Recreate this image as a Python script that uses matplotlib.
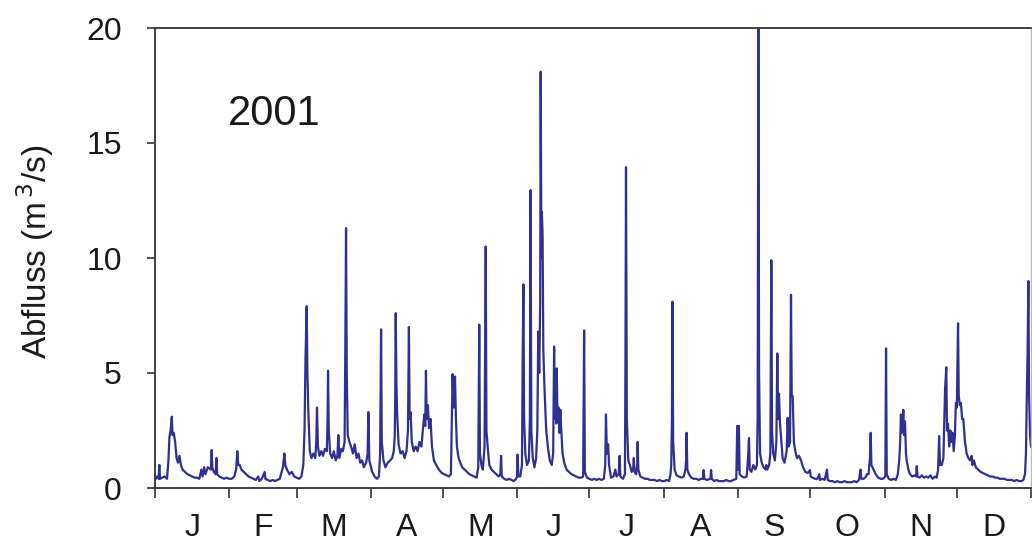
import matplotlib
matplotlib.use("Agg")
import matplotlib.pyplot as plt
import numpy as np

plt.rcParams['font.family'] = ['Liberation Sans', 'DejaVu Sans']

# --- DATEN: (Tag im Jahr, Abfluss m3/s) ---
jan = [(0, 0.35), (0.8, 0.5), (1.5, 0.4), (1.8, 1.0), (2.1, 0.4), (3, 0.45), (4, 0.5), (5, 0.4),
       (5.6, 1.2), (6, 2.2), (6.5, 2.5), (7.0, 3.1), (7.3, 2.3), (7.8, 2.4), (8.4, 2.0), (9, 1.3),
       (9.6, 1.1), (10.2, 1.4), (10.8, 1.0), (11.5, 0.8), (12.5, 0.7), (13.5, 0.6), (14.5, 0.55),
       (15.5, 0.5), (16.5, 0.45), (17.5, 0.45), (18.5, 0.4), (19.3, 0.8), (19.8, 0.5), (20.5, 0.9),
       (21, 0.6), (22, 0.9), (23.3, 0.8), (23.6, 1.65), (23.9, 0.9), (24.5, 0.7), (25.3, 0.6),
       (25.6, 1.3), (25.9, 0.6), (26.8, 0.5), (27.8, 0.45), (28.8, 0.4), (29.8, 0.45), (30.8, 0.4)]
feb = [(32, 0.4), (33, 0.5), (33.8, 0.8), (34.3, 1.6), (34.7, 1.0), (35.3, 1.0), (36, 0.8), (37, 0.7),
       (38, 0.6), (39, 0.5), (40, 0.45), (41, 0.4), (42, 0.35), (43, 0.5), (43.5, 0.3), (44.5, 0.4),
       (45.7, 0.7), (46, 0.4), (47, 0.35), (48, 0.3), (49, 0.35), (50, 0.3), (51, 0.35), (52, 0.4),
       (53.3, 0.9), (53.9, 1.5), (54.3, 1.0), (55, 0.8), (56, 0.6), (57, 0.7), (58, 0.5)]
mar = [(59, 0.45), (60, 0.4), (61, 0.5), (61.8, 1.0), (62.3, 2.5), (62.7, 5.6), (63.2, 7.9), (63.5, 5.0),
       (63.9, 3.3), (64.5, 1.6), (65.2, 1.3), (66, 1.5), (66.8, 1.3), (67.2, 2.0), (67.5, 3.5), (67.9, 1.8),
       (68.5, 1.4), (69.3, 1.6), (70, 1.4), (70.8, 1.7), (71.6, 1.6), (71.9, 3.0), (72.1, 5.1), (72.4, 2.5),
       (73, 1.5), (73.8, 1.3), (74.5, 1.6), (75.3, 1.2), (76, 1.4), (76.4, 2.3), (76.8, 1.3), (77.6, 1.7),
       (78.3, 1.6), (79, 2.0), (79.3, 6.1), (79.6, 11.3), (79.9, 5.0), (80.3, 2.3), (81, 2.0), (81.7, 1.8),
       (82.5, 1.5), (83.2, 1.9), (84, 1.3), (84.8, 1.5), (85.5, 1.1), (86.3, 1.2), (87, 0.9), (88, 1.1),
       (88.6, 1.5), (88.9, 3.3), (89.3, 1.2), (90, 0.9)]
apr = [(90.5, 0.7), (91.5, 0.5), (92.5, 0.4), (93.3, 0.5), (93.8, 1.5), (94.2, 6.9), (94.5, 2.0), (95.2, 1.2),
       (96, 0.9), (97, 1.1), (98, 1.2), (98.8, 1.3), (99.5, 1.6), (99.9, 2.3), (100.1, 4.0), (100.3, 7.6),
       (100.6, 4.5), (100.9, 3.2), (101.5, 1.9), (102.3, 1.5), (103.2, 1.6), (104, 1.3), (104.8, 1.6),
       (105.4, 2.5), (105.8, 7.0), (106.1, 3.0), (106.5, 3.3), (107, 2.0), (107.8, 1.6), (108.6, 1.8),
       (109.4, 1.6), (110.2, 2.0), (111, 1.8), (111.7, 2.6), (112.2, 3.2), (112.6, 2.7), (112.9, 5.1),
       (113.2, 3.0), (113.7, 3.6), (114.2, 2.6), (114.8, 3.0), (115.4, 1.8), (116.2, 1.2), (117.2, 1.0),
       (118.3, 0.8), (119.5, 0.65)]
mai = [(120.5, 0.6), (121.5, 0.55), (122.5, 0.5), (123.3, 0.6), (123.7, 3.0), (124, 4.95), (124.4, 3.5),
       (124.7, 4.0), (125, 4.85), (125.4, 3.0), (125.8, 1.8), (126.5, 1.3), (127.2, 1.1), (128, 0.9),
       (129, 0.8), (130, 0.7), (131, 0.6), (132, 0.55), (133, 0.5), (134, 0.45), (134.7, 0.9), (135.1, 7.1),
       (135.4, 1.5), (136, 1.0), (136.6, 0.8), (137.3, 1.8), (137.8, 10.5), (138.1, 2.5), (138.6, 1.8),
       (139.3, 1.0), (140.2, 0.8), (141.2, 0.7), (142.2, 0.6), (143.2, 0.5), (143.9, 0.6), (144.2, 1.4),
       (144.5, 0.5), (145.5, 0.4), (146.5, 0.35), (147.5, 0.4), (148.5, 0.35), (149.5, 0.3), (150.5, 0.4)]
jun = [(150.8, 0.5), (151.1, 1.45), (151.4, 0.5), (152.2, 0.5), (152.9, 1.0), (153.2, 5.7), (153.5, 8.85),
       (153.8, 3.0), (154.3, 1.5), (155, 1.0), (155.8, 1.2), (156.2, 3.0), (156.5, 12.95), (156.8, 2.5),
       (157.4, 1.3), (158.1, 0.9), (158.8, 1.3), (159.3, 2.5), (159.7, 6.8), (160.1, 5.0), (160.5, 8.0),
       (160.7, 18.1), (161.0, 10.0), (161.2, 12.0), (161.5, 11.0), (161.8, 6.0), (162.3, 4.3), (163, 2.5),
       (163.8, 1.7), (164.5, 1.2), (165.3, 1.0), (165.9, 1.5), (166.3, 6.15), (166.6, 3.0), (166.9, 3.6),
       (167.2, 2.8), (167.4, 5.2), (167.7, 2.9), (168.1, 3.5), (168.5, 2.4), (168.9, 3.4), (169.3, 2.5),
       (169.8, 1.5), (170.5, 1.1), (171.5, 0.8), (172.5, 0.7), (173.5, 0.6), (174.5, 0.55), (175.5, 0.5),
       (176.5, 0.45), (177.5, 0.45), (178.4, 0.5), (178.8, 6.85), (179.1, 0.7), (180, 0.45), (181, 0.4)]
jul = [(182, 0.35), (183, 0.4), (184, 0.35), (185, 0.4), (186, 0.35), (187, 0.4), (187.6, 1.0), (187.9, 3.2),
       (188.3, 1.5), (188.8, 1.9), (189.2, 1.0), (190, 0.45), (191, 0.5), (191.8, 0.8), (192.3, 0.5),
       (193.2, 0.6), (193.6, 1.4), (193.9, 0.5), (195, 0.4), (195.8, 0.6), (196.0, 5.0), (196.25, 13.95),
       (196.6, 3.0), (197.2, 1.2), (197.9, 1.0), (198.6, 0.7), (199.2, 0.8), (199.5, 1.3), (199.8, 0.7),
       (200.5, 0.6), (200.9, 1.0), (201.1, 2.0), (201.4, 0.8), (202.2, 0.5), (203.2, 0.45), (204.2, 0.4),
       (205.2, 0.4), (206.2, 0.35), (207.2, 0.35), (208.2, 0.35), (209.2, 0.3), (210.2, 0.35), (211.2, 0.3)]
aug = [(212.2, 0.3), (213.2, 0.35), (214.2, 0.3), (214.8, 0.6), (215.1, 1.0), (215.4, 3.0), (215.6, 8.1),
       (215.9, 2.0), (216.5, 0.8), (217.3, 0.55), (218.3, 0.5), (219.3, 0.45), (220.3, 0.5), (221, 0.8),
       (221.3, 1.2), (221.5, 2.4), (221.8, 0.8), (222.5, 0.6), (223.5, 0.45), (224.5, 0.4), (225.5, 0.4),
       (226.5, 0.35), (227.5, 0.4), (228.3, 0.4), (228.6, 0.78), (228.9, 0.4), (230, 0.35), (231.4, 0.4),
       (231.7, 0.78), (232, 0.4), (233, 0.3), (234, 0.35), (235, 0.3), (236, 0.3), (237, 0.3), (238, 0.35),
       (239, 0.3), (240, 0.3), (241, 0.35), (242.2, 0.4), (242.6, 2.7), (242.9, 0.8), (243.3, 2.7), (243.6, 0.6)]
sep = [(244.5, 0.5), (245.5, 0.45), (246.5, 0.5), (247.1, 1.3), (247.5, 2.17), (247.8, 0.8), (248.5, 0.7),
       (249.3, 1.0), (250.1, 0.8), (250.8, 1.0), (251.1, 3.0), (251.4, 20.0), (251.7, 5.0), (252.1, 1.5),
       (252.8, 1.1), (253.6, 0.9), (254.4, 0.8), (254.7, 1.0), (255.1, 0.8), (255.9, 1.0), (256.4, 1.5),
       (256.8, 9.9), (257.1, 2.5), (257.6, 1.5), (258.3, 1.2), (258.9, 2.0), (259.3, 5.85), (259.6, 3.0),
       (260.0, 4.1), (260.4, 2.8), (260.8, 2.3), (261.5, 1.3), (262.3, 1.1), (263.2, 1.6), (263.6, 3.05),
       (264.0, 1.8), (264.6, 2.0), (265.0, 8.4), (265.3, 4.0), (265.7, 4.0), (266.2, 2.0), (266.8, 1.6),
       (267.5, 1.3), (268.3, 1.4), (269.2, 1.2), (270, 0.9), (271, 0.7), (272, 0.65), (272.9, 0.78), (273.2, 0.5)]
okt = [(274, 0.45), (275, 0.4), (276, 0.4), (276.8, 0.6), (277.1, 0.35), (278, 0.4), (279, 0.35), (280, 0.8),
       (280.3, 0.35), (281.3, 0.3), (282.3, 0.3), (283.3, 0.25), (284.3, 0.3), (285.3, 0.25), (286.3, 0.25),
       (287.3, 0.3), (288.3, 0.25), (289.3, 0.25), (290.3, 0.25), (291.3, 0.3), (292.3, 0.25), (293.3, 0.35),
       (294, 0.8), (294.3, 0.4), (295.3, 0.4), (296.3, 0.5), (296.6, 0.6), (297.3, 0.6), (297.9, 1.3),
       (298.2, 2.4), (298.5, 1.0), (299.4, 0.8), (300.3, 0.6), (301.3, 0.45), (302.3, 0.4), (303.3, 0.4)]
nov = [(304.3, 0.5), (304.6, 6.07), (304.9, 0.6), (305.7, 0.4), (306.7, 0.35), (307.7, 0.4), (308.7, 0.35),
       (309.5, 0.6), (310.1, 1.2), (310.5, 2.0), (310.8, 3.2), (311.2, 2.4), (311.5, 2.8), (311.8, 3.4),
       (312.1, 2.3), (312.5, 2.9), (312.9, 1.5), (313.2, 1.2), (313.9, 0.8), (314.6, 0.6), (315.5, 0.5),
       (316.4, 0.55), (317.1, 0.5), (317.4, 0.95), (317.7, 0.5), (318.6, 0.45), (319.5, 0.55), (320.4, 0.45),
       (321.3, 0.5), (322.2, 0.45), (323.1, 0.55), (324, 0.4), (325, 0.5), (325.7, 0.45), (326.3, 0.8),
       (326.7, 2.26), (327.1, 1.0), (327.8, 1.0), (328.5, 1.3), (329.2, 4.3), (329.7, 5.25), (330.0, 2.5),
       (330.4, 2.8), (330.9, 1.8), (331.4, 2.5), (331.8, 2.0), (332.3, 2.4), (332.8, 1.6), (333.3, 2.3),
       (333.7, 3.7), (334.1, 3.5), (334.6, 7.16)]
dez = [(334.9, 4.0), (335.3, 3.6), (335.8, 3.7), (336.3, 3.0), (336.8, 3.0), (337.5, 2.0), (338.2, 1.5),
       (338.9, 1.3), (339.6, 1.2), (340.3, 1.4), (340.6, 1.0), (341.2, 1.2), (342, 0.9), (343, 0.8), (344, 0.7),
       (345, 0.65), (346, 0.6), (347, 0.55), (348, 0.5), (349, 0.5), (350, 0.45), (351, 0.45), (352, 0.4),
       (353, 0.4), (354, 0.4), (355, 0.35), (356, 0.35), (357, 0.35), (358, 0.3), (359, 0.35), (360, 0.3),
       (361, 0.3), (361.8, 0.35), (362.5, 0.6), (362.9, 1.5), (363.3, 4.3), (363.6, 6.0), (363.9, 9.0),
       (364.2, 4.0), (364.6, 2.3), (365, 1.8)]

MONATE = ['J', 'F', 'M', 'A', 'M', 'J', 'J', 'A', 'S', 'O', 'N', 'D']
MONATSANFANG = [0, 31, 59, 90, 120, 151, 181, 212, 243, 273, 304, 334, 365]
JAHR = "2001"

punkte = jan + feb + mar + apr + mai + jun + jul + aug + sep + okt + nov + dez
tag = np.array([p[0] for p in punkte])
abfluss = np.array([p[1] for p in punkte])

# --- GRAFIK ---
fig = plt.figure(figsize=(10.32, 5.45), dpi=100)
ax = fig.add_axes([155/1032, 1 - 488/545, 876/1032, 460/545])

ax.plot(tag, abfluss, color='#2e3192', linewidth=1.6)

ax.set_xlim(0, 365)
ax.set_ylim(0, 20)

# Monatsgrenzen als Striche, Beschriftung in der Monatsmitte
ax.set_xticks(MONATSANFANG)
ax.set_xticklabels([])
mitten = [(a + b) / 2 for a, b in zip(MONATSANFANG[:-1], MONATSANFANG[1:])]
ax.set_xticks(mitten, minor=True)
ax.set_xticklabels(MONATE, minor=True)
ax.tick_params(axis='x', which='major', direction='out', length=7, width=1.2, color='#333333')
ax.tick_params(axis='x', which='minor', length=0, pad=18, labelsize=23, labelcolor='#1a1a1a')

ax.set_yticks([0, 5, 10, 15, 20])
ax.tick_params(axis='y', direction='out', length=6, width=1.2, pad=18, labelsize=23,
               color='#333333', labelcolor='#1a1a1a')

for s in ['left', 'bottom', 'top']:
    ax.spines[s].set_color('#333333')
    ax.spines[s].set_linewidth(1.3)
ax.spines['right'].set_color('#bbbbbb')
ax.spines['right'].set_linewidth(1.0)

fig.text(35/1032, 1 - 252/545, 'Abfluss (m$^{\\,3}$/s)', rotation=90, ha='center', va='center',
         fontsize=24, color='#1a1a1a')

ax.text(0.083, 0.789, JAHR, transform=ax.transAxes, fontsize=30, color='#1a1a1a',
        ha='left', va='baseline')

fig.savefig("out.png", dpi=100)
